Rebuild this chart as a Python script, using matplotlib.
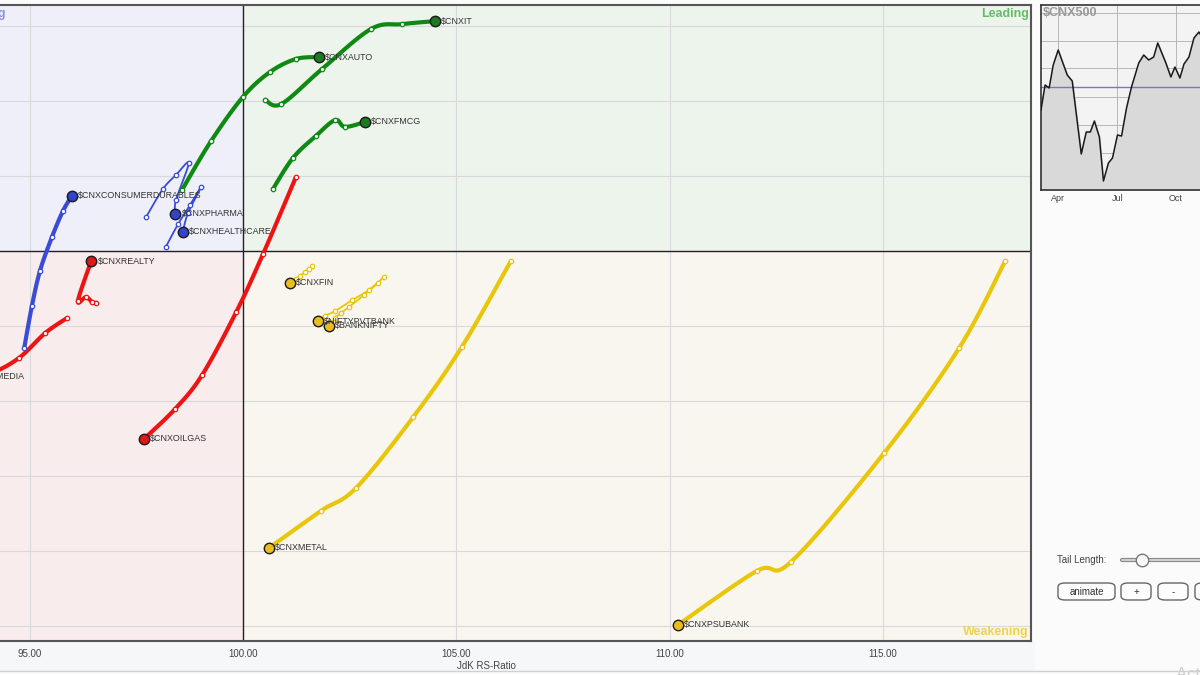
import matplotlib.pyplot as plt
import numpy as np
from matplotlib.patches import FancyBboxPatch, Rectangle

plt.rcParams['font.family'] = ['Liberation Sans', 'DejaVu Sans']

# --- RRG data: JdK RS-Ratio (x) / RS-Momentum (y), oldest -> newest, last point = head ---
it_x = [100.52, 100.90, 101.85, 103.00, 103.73, 104.50]
it_y = [104.03, 103.92, 104.85, 105.92, 106.05, 106.13]
auto_x = [98.57, 99.25, 100.00, 100.63, 101.24, 101.78]
auto_y = [101.63, 102.93, 104.11, 104.77, 105.12, 105.17]
fmcg_x = [100.70, 101.17, 101.71, 102.16, 102.39, 102.86]
fmcg_y = [101.65, 102.48, 103.07, 103.49, 103.31, 103.44]
cdur_x = [94.87, 95.05, 95.24, 95.52, 95.78, 95.99]
cdur_y = [97.41, 98.53, 99.47, 100.37, 101.07, 101.47]
pharma_x = [97.73, 98.12, 98.43, 98.73, 98.43, 98.41]
pharma_y = [100.91, 101.65, 102.03, 102.35, 101.36, 100.99]
health_x = [98.19, 98.48, 98.76, 99.02, 98.71, 98.59]
health_y = [100.11, 100.72, 101.23, 101.71, 101.01, 100.51]
realty_x = [96.55, 96.46, 96.32, 96.13, 96.44]
realty_y = [98.61, 98.64, 98.77, 98.67, 99.73]
media_x = [95.87, 95.36, 94.75, 94.11, 93.53]
media_y = [98.21, 97.81, 97.15, 96.75, 96.64]
oil_x = [101.24, 100.47, 99.84, 99.04, 98.41, 97.68]
oil_y = [101.97, 99.92, 98.37, 96.69, 95.79, 94.99]
fin_x = [101.62, 101.55, 101.45, 101.34, 101.24, 101.10]
fin_y = [99.60, 99.52, 99.44, 99.33, 99.25, 99.15]
pvt_x = [103.31, 102.95, 102.56, 102.16, 101.92, 101.76]
pvt_y = [99.31, 98.96, 98.69, 98.40, 98.27, 98.13]
bank_x = [103.17, 102.84, 102.49, 102.30, 102.16, 102.02]
bank_y = [99.15, 98.83, 98.51, 98.35, 98.21, 98.00]
metal_x = [106.28, 105.13, 103.99, 102.65, 101.83, 100.61]
metal_y = [99.73, 97.44, 95.57, 93.68, 93.07, 92.08]
psu_x = [117.87, 116.79, 115.03, 112.85, 112.05, 110.20]
psu_y = [99.73, 97.41, 94.61, 91.71, 91.47, 90.03]

x_ticks = [95, 100, 105, 110, 115]
x_ticklabels = ['95.00', '100.00', '105.00', '110.00', '115.00']

# --- $CNX500 mini chart (week index, price level in chart units) ---
cnx_week = [0, 0.9, 1.8, 2.7, 3.8, 5.8, 6.9, 8.9, 10.0, 10.9, 11.8, 12.9, 13.8, 14.9, 15.8, 16.9,
            17.8, 18.9, 20.0, 21.6, 22.7, 23.8, 24.9, 25.8, 27.6, 28.7, 29.6, 30.7, 31.6, 32.7,
            33.8, 34.9, 36.0]
cnx_level = [80, 105, 102, 125, 140, 115, 109, 36, 58, 58, 69, 53, 9, 27, 32, 55,
             54, 82, 103, 127, 135, 130, 133, 147, 127, 113, 123, 112, 126, 133,
             152, 158, 150]
cnx_ref = 103
month_pos = [3.8, 16.9, 29.8, 42.9]
month_lab = ['Apr', 'Jul', 'Oct', 'Jan']

GREEN, BLUE, RED, YELLOW = '#0e8a12', '#3a4cd4', '#ee1414', '#e9c60a'
HEAD = {GREEN: '#1b7a1f', BLUE: '#3344cc', RED: '#dd1818', YELLOW: '#e8bd20'}

series = [
    ('$CNXIT', it_x, it_y, GREEN, 3.0),
    ('$CNXAUTO', auto_x, auto_y, GREEN, 3.0),
    ('$CNXFMCG', fmcg_x, fmcg_y, GREEN, 3.0),
    ('$CNXCONSUMERDURABLES', cdur_x, cdur_y, BLUE, 3.0),
    ('$CNXPHARMA', pharma_x, pharma_y, BLUE, 1.3),
    ('$CNXHEALTHCARE', health_x, health_y, BLUE, 1.3),
    ('$CNXREALTY', realty_x, realty_y, RED, 3.0),
    ('$CNXMEDIA', media_x, media_y, RED, 3.0),
    ('$CNXOILGAS', oil_x, oil_y, RED, 3.0),
    ('$CNXFIN', fin_x, fin_y, YELLOW, 1.3),
    ('$NIFTYPVTBANK', pvt_x, pvt_y, YELLOW, 1.3),
    ('$BANKNIFTY', bank_x, bank_y, YELLOW, 1.3),
    ('$CNXMETAL', metal_x, metal_y, YELLOW, 3.0),
    ('$CNXPSUBANK', psu_x, psu_y, YELLOW, 3.0),
]


def smooth(xs, ys, n=16):
    # Catmull-Rom curve through the tail points (drawing only)
    p = np.column_stack([xs, ys]).astype(float)
    p = np.vstack([p[0], p, p[-1]])
    out = []
    for i in range(1, len(p) - 2):
        p0, p1, p2, p3 = p[i - 1], p[i], p[i + 1], p[i + 2]
        t = np.linspace(0, 1, n)[:, None]
        seg = 0.5 * (2 * p1 + (-p0 + p2) * t + (2 * p0 - 5 * p1 + 4 * p2 - p3) * t ** 2
                     + (-p0 + 3 * p1 - 3 * p2 + p3) * t ** 3)
        out.append(seg)
    c = np.vstack(out)
    return c[:, 0], c[:, 1]


W, H = 1200, 675
fig = plt.figure(figsize=(12, 6.75), dpi=100)
fig.patch.set_facecolor('#fbfbfc')


def fx(px):
    return px / W


def fy(py):
    return 1 - py / H


# bottom strip under the main plot
fig.patches.append(Rectangle((0, fy(671)), fx(1035), (671 - 641) / H, transform=fig.transFigure,
                             facecolor='#f6f7f9', edgecolor='none', zorder=-10))
fig.lines.append(plt.Line2D([0, 1], [fy(671), fy(671)], transform=fig.transFigure,
                            color='#cfcfd4', lw=1, zorder=-5))

# --- main RRG axes (left part runs off the picture) ---
LEFT = -58
ax = fig.add_axes([fx(LEFT), fy(641), fx(1031 - LEFT), 636 / H])
xlo, xhi = 100 + (LEFT - 243) / 42.65, 100 + (1031 - 243) / 42.65
ylo, yhi = 100 - (641 - 251) / 37.5, 100 + (251 - 5) / 37.5
ax.set_xlim(xlo, xhi)
ax.set_ylim(ylo, yhi)

ax.add_patch(Rectangle((xlo, 100), 100 - xlo, yhi - 100, facecolor='#eeeff8', edgecolor='none', zorder=0))
ax.add_patch(Rectangle((100, 100), xhi - 100, yhi - 100, facecolor='#edf4ec', edgecolor='none', zorder=0))
ax.add_patch(Rectangle((xlo, ylo), 100 - xlo, 100 - ylo, facecolor='#f8ecec', edgecolor='none', zorder=0))
ax.add_patch(Rectangle((100, ylo), xhi - 100, 100 - ylo, facecolor='#f8f6ee', edgecolor='none', zorder=0))

for gx in x_ticks:
    ax.axvline(gx, color='#d9d9dc', lw=0.8, zorder=1)
for gy in np.arange(90, 107, 2):
    ax.axhline(gy, color='#d9d9dc', lw=0.8, zorder=1)
ax.axvline(100, color='#222222', lw=1.0, zorder=2)
ax.axhline(100, color='#222222', lw=1.0, zorder=2)

for name, xs, ys, col, lw in series:
    sx, sy = smooth(xs, ys)
    ax.plot(sx, sy, color=col, lw=lw, solid_capstyle='round', zorder=3)
    ax.plot(xs[:-1], ys[:-1], 'o', ms=3.2, mfc='white', mec=col, mew=0.9, zorder=4)
    ax.plot(xs[-1], ys[-1], 'o', ms=7.5, mfc=HEAD[col], mec='#1a1a1a', mew=1.0, zorder=5)
    ax.annotate(name, (xs[-1], ys[-1]), xytext=(4.5, 0), textcoords='offset points',
                fontsize=6.4, color='#333333', va='center', ha='left', zorder=6,
                annotation_clip=False)

ax.text(0.003, 0.995, 'Improving', transform=ax.transAxes, color='#8c90e0', fontsize=9,
        fontweight='bold', ha='left', va='top')
ax.text(0.998, 0.995, 'Leading', transform=ax.transAxes, color='#66bb66', fontsize=9,
        fontweight='bold', ha='right', va='top')
ax.text(0.003, 0.004, 'Lagging', transform=ax.transAxes, color='#e87878', fontsize=9,
        fontweight='bold', ha='left', va='bottom')
ax.text(0.998, 0.004, 'Weakening', transform=ax.transAxes, color='#f0d24a', fontsize=9,
        fontweight='bold', ha='right', va='bottom')

ax.set_xticks(x_ticks)
ax.set_xticklabels(x_ticklabels, fontsize=7, color='#444444')
ax.set_yticks([])
ax.tick_params(axis='x', length=0, pad=6)
ax.set_xlabel('JdK RS-Ratio', fontsize=7, color='#444444', labelpad=1)
for s in ['top', 'right', 'bottom']:
    ax.spines[s].set_color('#555555')
    ax.spines[s].set_linewidth(1.5)
ax.spines['left'].set_visible(False)

# --- $CNX500 mini chart (runs off the right edge) ---
mx = fig.add_axes([fx(1041), fy(190), fx(200), 185 / H])
mx.set_xlim(0, 44.2)
mx.set_ylim(0, 185)
mx.set_facecolor('#f3f3f3')
mx.fill_between(cnx_week, cnx_level, 0, color='#d9d9d9', zorder=1)
mx.plot(cnx_week, cnx_level, color='#1a1a1a', lw=1.1, zorder=3)
mx.axhline(cnx_ref, color='#7478c8', lw=1.0, zorder=2)
mx.set_yticks([8, 37, 65, 93, 122, 149, 177])
mx.set_yticklabels([])
mx.set_xticks(month_pos)
mx.set_xticklabels(month_lab, fontsize=6.5, color='#444444')
mx.tick_params(length=0, pad=3)
mx.grid(True, color='#b8b8b8', lw=0.7, zorder=0)
mx.set_axisbelow(True)
for s in mx.spines.values():
    s.set_color('#333333')
    s.set_linewidth(1.2)
mx.text(0.01, 0.99, '$CNX500', transform=mx.transAxes, fontsize=9, fontweight='bold',
        color='#9a9a9a', ha='left', va='top', zorder=5)

# --- controls ---
fig.text(fx(1057), fy(560), 'Tail Length:', fontsize=7, color='#444444', va='center', ha='left')
fig.lines.append(plt.Line2D([fx(1122), fx(1205)], [fy(560), fy(560)], transform=fig.transFigure,
                            color='#8a8a8a', lw=3, solid_capstyle='round'))
fig.lines.append(plt.Line2D([fx(1122), fx(1205)], [fy(560), fy(560)], transform=fig.transFigure,
                            color='#dddddd', lw=1.2, solid_capstyle='round'))
fig.lines.append(plt.Line2D([fx(1142)], [fy(560)], transform=fig.transFigure, marker='o',
                            ms=9, mfc='#f7f7f7', mec='#777777', mew=1))

buttons = [('animate', 1058, 1115), ('+', 1121, 1151), ('-', 1158, 1188), ('', 1195, 1240)]
for lab, x0, x1 in buttons:
    fig.patches.append(FancyBboxPatch((fx(x0), fy(600)), fx(x1 - x0), 17 / H,
                                      boxstyle='round,pad=0,rounding_size=0.006',
                                      transform=fig.transFigure, facecolor='#fdfdfd',
                                      edgecolor='#666666', lw=1))
    fig.text(fx((x0 + x1) / 2), fy(592), lab, fontsize=7, color='#333333',
             ha='center', va='center')

fig.text(fx(1176), fy(667), 'Activate Windows', fontsize=12, color='#d0d0d0',
         ha='left', va='top')

fig.savefig('out.png', dpi=100, facecolor=fig.get_facecolor())
